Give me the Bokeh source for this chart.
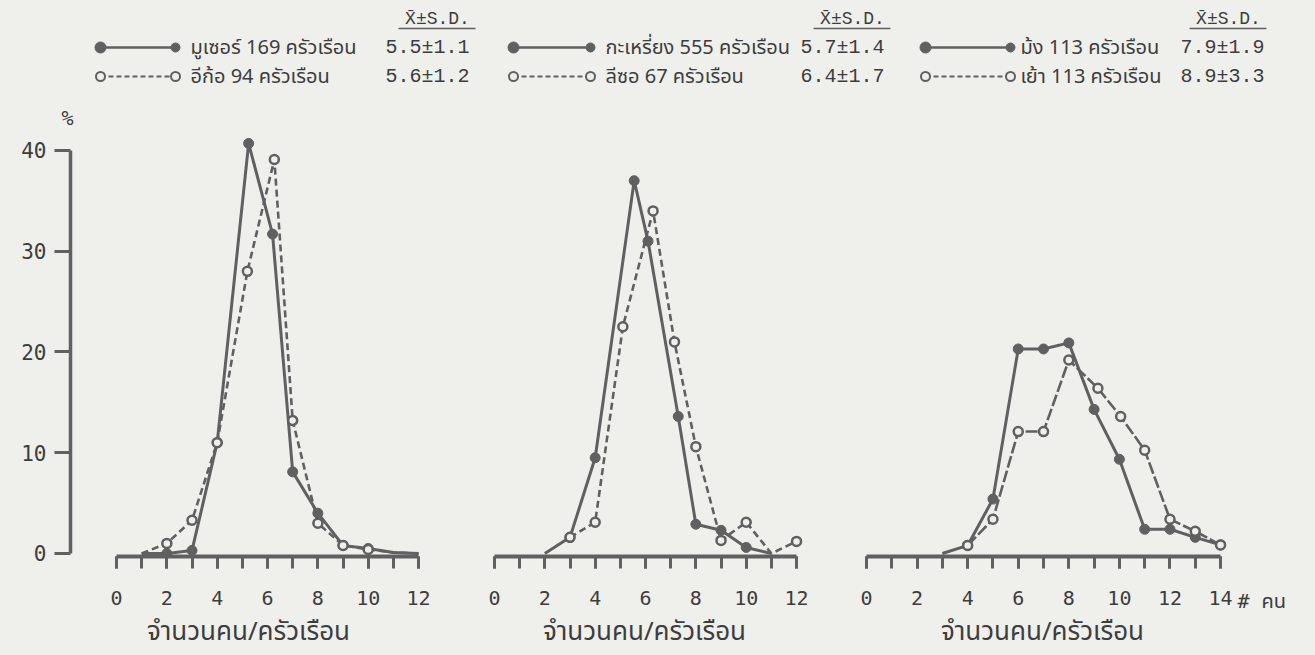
from bokeh.plotting import figure
from bokeh.layouts import column, row
from bokeh.models import Range1d, FixedTicker
from bokeh.core.properties import value
from bokeh.embed import file_html
from bokeh.resources import INLINE

# ---------------- data ----------------
# Panel 1: มูเซอร์ (solid) / อีก้อ (dashed)
musur_x = [1, 2, 3, 4, 5.25, 6.2, 7, 8, 9, 10, 11, 12]
musur_y = [0, 0, 0.3, 11, 40.7, 31.7, 8.1, 4.0, 0.8, 0.5, 0.1, 0]
akha_x = [1, 2, 3, 4, 5.2, 6.27, 7, 8, 9, 10, 11, 12]
akha_y = [0, 1.0, 3.3, 11, 28, 39.1, 13.2, 3.0, 0.8, 0.4, 0.1, 0]
# Panel 2: กะเหรี่ยง (solid) / ลีซอ (dashed)
karen_x = [2, 3, 4, 5.55, 6.1, 7.3, 8, 9, 10, 11]
karen_y = [0, 1.6, 9.5, 37, 31, 13.6, 2.9, 2.3, 0.6, 0]
lisu_x = [3, 4, 5.1, 6.3, 7.15, 8, 9, 10, 11, 12]
lisu_y = [1.6, 3.1, 22.5, 34, 21, 10.6, 1.3, 3.1, 0, 1.2]
# Panel 3: ม้ง (solid) / เย้า (dashed)
hmong_x = [3, 4, 5, 6, 7, 8, 9, 10, 11, 12, 13, 14]
hmong_y = [0, 0.8, 5.4, 20.3, 20.3, 20.9, 14.3, 9.35, 2.4, 2.4, 1.6, 0.85]
yao_x = [4, 5, 6, 7, 8, 9.15, 10.05, 11, 12, 13, 14]
yao_y = [0.8, 3.4, 12.1, 12.1, 19.2, 16.4, 13.6, 10.25, 3.4, 2.2, 0.85]

group_names = ["มูเซอร์", "อีก้อ", "กะเหรี่ยง", "ลีซอ", "ม้ง", "เย้า"]
households = [169, 94, 555, 67, 113, 113]
means = [5.5, 5.6, 5.7, 6.4, 7.9, 8.9]
sds = [1.1, 1.2, 1.4, 1.7, 1.9, 3.3]

y_ticks = [0, 10, 20, 30, 40]
x_label = "จำนวนคน/ครัวเรือน"
unit_label = "# คน"
stat_header = "X\u0304±S.D."

# ---------------- styles ----------------
BG = "#efefec"
INK = "#606060"
TXT = "#3d3d3d"
THAI = "Noto Sans Thai, Loma, Garuda, Norasi, Noto Sans, DejaVu Sans, sans-serif"
MONO = "DejaVu Sans Mono"
MONO_THAI = "DejaVu Sans Mono, Noto Sans Thai, Loma, Garuda, sans-serif"
TYPE = "Liberation Mono"

FRAME_H = 428
BOTTOM = 99
y_range = Range1d(-0.3, 42.18)


def style_fig(p):
    p.background_fill_color = BG
    p.border_fill_color = BG
    p.outline_line_color = None
    p.grid.visible = False


def make_panel(xs, xe, fw, bl, br, xmax, with_y):
    p = figure(frame_width=fw, frame_height=FRAME_H,
               x_range=Range1d(xs, xe), y_range=y_range,
               min_border_left=bl, min_border_right=br,
               min_border_top=0, min_border_bottom=BOTTOM,
               y_axis_location="left" if with_y else None,
               toolbar_location=None, output_backend="svg")
    style_fig(p)
    ax = p.xaxis[0]
    ax.bounds = (0, xmax)
    ax.ticker = FixedTicker(ticks=list(range(0, xmax + 1, 2)),
                            minor_ticks=list(range(0, xmax + 1)))
    ax.axis_line_width = 4
    ax.axis_line_color = INK
    ax.major_tick_line_width = 3
    ax.minor_tick_line_width = 3
    ax.major_tick_line_color = INK
    ax.minor_tick_line_color = INK
    ax.major_tick_in = 0
    ax.minor_tick_in = 0
    ax.major_tick_out = 12
    ax.minor_tick_out = 12
    ax.major_label_standoff = 22
    ax.major_label_text_font = MONO
    ax.major_label_text_font_size = "20px"
    ax.major_label_text_color = TXT
    ax.axis_label = x_label
    ax.axis_label_text_font = THAI
    ax.axis_label_text_font_size = "26px"
    ax.axis_label_text_font_style = "normal"
    ax.axis_label_text_color = TXT
    ax.axis_label_standoff = 4
    if with_y:
        ya = p.yaxis[0]
        ya.bounds = (0, 40)
        ya.ticker = FixedTicker(ticks=y_ticks, minor_ticks=[])
        ya.axis_line_width = 3.5
        ya.axis_line_color = INK
        ya.major_tick_line_width = 3
        ya.major_tick_line_color = INK
        ya.major_tick_in = 0
        ya.major_tick_out = 16
        ya.minor_tick_out = 0
        ya.minor_tick_in = 0
        ya.major_label_standoff = 8
        ya.major_label_text_font = MONO
        ya.major_label_text_font_size = "21px"
        ya.major_label_text_color = TXT
    return p


def pick(vals, idx):
    return [vals[i] for i in idx]


def draw_pair(p, sx, sy, dx, dy, s_idx, d_idx, dash):
    p.line(dx, dy, line_width=2.6, color=INK, line_dash=dash)
    p.line(sx, sy, line_width=3, color=INK)
    p.scatter(pick(sx, s_idx), pick(sy, s_idx), size=10, fill_color=INK, line_color=INK)
    p.scatter(pick(dx, d_idx), pick(dy, d_idx), size=9, fill_color=BG,
              line_color=INK, line_width=2.5)


p1 = make_panel(-1.8275, 12.316, 356, 70, 14, 12, True)
draw_pair(p1, musur_x, musur_y, akha_x, akha_y, range(1, 10), range(1, 10), "7 4")

p2 = make_panel(-0.596, 12.515, 330, 39, 21, 12, False)
draw_pair(p2, karen_x, karen_y, lisu_x, lisu_y, range(1, 9), [0, 1, 2, 3, 4, 5, 6, 7, 9], "7 4")

p3 = make_panel(-0.593, 14.512, 382, 21, 0, 14, False)
draw_pair(p3, hmong_x, hmong_y, yao_x, yao_y, range(1, 12), range(0, 11), "12 3")

# small strip to the right of panel 3 carrying the "# คน" unit text
side = figure(frame_width=82, frame_height=FRAME_H + BOTTOM,
              x_range=Range1d(1233, 1315), y_range=Range1d(655, 128),
              x_axis_location=None, y_axis_location=None,
              min_border_left=0, min_border_right=0, min_border_top=0,
              min_border_bottom=0, toolbar_location=None, output_backend="svg")
style_fig(side)
side.text([1237], [600], text=[unit_label], text_font=value(MONO_THAI),
          text_font_size="20px", text_color=TXT, text_align="left",
          text_baseline="middle")

# ---------------- legend strip ----------------
lg = figure(frame_width=1315, frame_height=128,
            x_range=Range1d(0, 1315), y_range=Range1d(128, 0),
            x_axis_location=None, y_axis_location=None,
            min_border_left=0, min_border_right=0,
            min_border_top=0, min_border_bottom=0,
            toolbar_location=None, output_backend="svg")
style_fig(lg)

# layout constants for the three legend blocks
sample_x0 = [100, 513, 925]
sample_x1 = [175, 590, 1010]
name_x = [190, 605, 1020]
stat_x = [385, 800, 1180]
header_cx = [437, 852, 1228]
row_y = [47, 76]

for k in range(3):
    lg.text([header_cx[k]], [18], text=[stat_header], text_font=value(TYPE),
            text_font_size="18px", text_color=TXT, text_align="center",
            text_baseline="middle")
    lg.line([header_cx[k] - 39, header_cx[k] + 38], [28, 28], line_width=1.6, color=INK)
    for r in range(2):
        i = 2 * k + r
        yy = row_y[r]
        if r == 0:
            lg.line([sample_x0[k], sample_x1[k]], [yy, yy], line_width=2.5, color=INK)
            lg.scatter([sample_x0[k]], [yy], size=11, fill_color=INK, line_color=INK)
            lg.scatter([sample_x1[k]], [yy], size=9, fill_color=INK, line_color=INK)
        else:
            lg.line([sample_x0[k], sample_x1[k]], [yy, yy], line_width=2.2, color=INK,
                    line_dash="5 3")
            lg.scatter([sample_x0[k], sample_x1[k]], [yy, yy], size=9, fill_color=BG,
                       line_color=INK, line_width=2)
        lg.text([name_x[k]], [yy], text=[f"{group_names[i]} {households[i]} ครัวเรือน"],
                text_font=value(THAI), text_font_size="20px", text_color=TXT,
                text_align="left", text_baseline="middle")
        lg.text([stat_x[k]], [yy], text=[f"{means[i]:.1f}±{sds[i]:.1f}"],
                text_font=value(TYPE), text_font_size="20px", text_color=TXT,
                text_align="left", text_baseline="middle")

lg.text([67], [117], text=["%"], text_font=value(MONO), text_font_size="20px",
        text_color=TXT, text_align="center", text_baseline="middle")

panels = row(p1, p2, p3, side, spacing=0, styles={"background-color": BG})
layout = column(lg, panels, spacing=0, styles={"background-color": BG})
open("out.html", "w").write(file_html(layout, INLINE))
